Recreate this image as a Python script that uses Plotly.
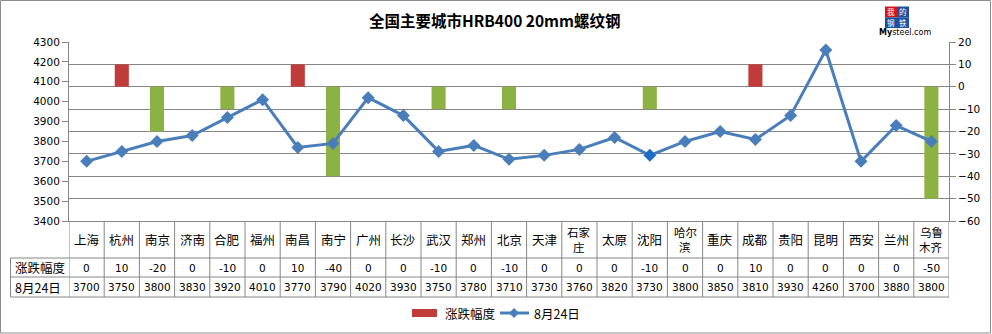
import plotly.graph_objects as go

# ---------------- data ----------------
cities = ["上海", "杭州", "南京", "济南", "合肥", "福州", "南昌", "南宁", "广州", "长沙",
          "武汉", "郑州", "北京", "天津", "石家庄", "太原", "沈阳", "哈尔滨", "重庆", "成都",
          "贵阳", "昆明", "西安", "兰州", "乌鲁木齐"]
change = [0, 10, -20, 0, -10, 0, 10, -40, 0, 0,
          -10, 0, -10, 0, 0, 0, -10, 0, 0, 10,
          0, 0, 0, 0, -50]
price = [3700, 3750, 3800, 3830, 3920, 4010, 3770, 3790, 4020, 3930,
         3750, 3780, 3710, 3730, 3760, 3820, 3730, 3800, 3850, 3810,
         3930, 4260, 3700, 3880, 3800]
change_name = "涨跌幅度"
price_name = "8月24日"
title = "全国主要城市HRB400 20mm螺纹钢"
left_ticks = [3400, 3500, 3600, 3700, 3800, 3900, 4000, 4100, 4200, 4300]
right_ticks = [-60, -50, -40, -30, -20, -10, 0, 10, 20]

# ---------------- layout helpers ----------------
W, H = 992, 334
L, R, T, B = 69, 43, 42, 113
PW, PH = W - L - R, H - T - B


def xp(px):
    return (px - L) / PW


def yp(py):
    return (H - B - py) / PH


CJK = "Noto Sans CJK SC"
NUM = "DejaVu Sans"
GRID = "#868686"
RED = "#c23b3b"
GREEN = "#8cb244"
BLUE = "#4a7ebb"

fig = go.Figure()

bar_colors = [RED if v >= 0 else GREEN for v in change]
fig.add_trace(go.Bar(
    x=cities, y=change, name=change_name, yaxis="y",
    width=0.4, marker=dict(color=bar_colors, line=dict(width=0)),
))

marker_colors = ["#1b6ec6" if c == "沈阳" else BLUE for c in cities]
fig.add_trace(go.Scatter(
    x=cities, y=price, name=price_name, yaxis="y2", mode="lines+markers",
    line=dict(color=BLUE, width=3),
    marker=dict(symbol="diamond", size=10, color=marker_colors),
))


def note(text, x, y, xref="paper", size=12.5, family=CJK, **kw):
    d = dict(text=text, x=x, y=y, xref=xref, yref="paper", showarrow=False,
             xanchor="center", yanchor="middle",
             font=dict(family=family, size=size, color=kw.pop("color", "#000")))
    d.update(kw)
    return d


ann = []
ann.append(note("<b>" + title + "</b>", xp(495), yp(20), size=15.5))
for c, v, p in zip(cities, change, price):
    if len(c) <= 2:
        ann.append(note(c, c, yp(239.5), xref="x"))
    else:
        ann.append(note(c[:2], c, yp(231.5), xref="x", size=11.5, borderpad=0))
        ann.append(note(c[2:], c, yp(247), xref="x", size=11.5, borderpad=0))
    ann.append(note(str(v), c, yp(267.5), xref="x", size=10.5, family=NUM))
    ann.append(note(str(p), c, yp(287), xref="x", size=10.5, family=NUM))
ann.append(note(change_name, xp(40), yp(267.5)))
ann.append(note(price_name, xp(13), yp(287), xanchor="left"))

shapes = []

# logo
logo = [("我", 885, 897, 6.5, 17.3, "#d7151a"), ("的", 897, 909, 6.5, 17.3, "#1d4f9e"),
        ("钢", 885, 897, 17.3, 28, "#1d4f9e"), ("铁", 897, 909, 17.3, 28, "#1d4f9e")]
for ch, x0, x1, y0, y1, bg in logo:
    shapes.append(dict(type="rect", xref="paper", yref="paper", x0=xp(x0), x1=xp(x1),
                       y0=yp(y0), y1=yp(y1), fillcolor=bg, line=dict(width=0)))
    ann.append(note(ch, xp((x0 + x1) / 2), yp((y0 + y1) / 2), size=7.5, color="#fff"))
ann.append(note("<b>My</b>steel.com", xp(905), yp(32.5), size=8, family="DejaVu Sans"))

# table grid
line_style = dict(color=GRID, width=1)
for i in range(len(cities) + 1):
    shapes.append(dict(type="line", xref="x", yref="paper", x0=i - 0.5, x1=i - 0.5,
                       y0=yp(221), y1=yp(297), line=line_style))
shapes.append(dict(type="line", xref="paper", yref="paper", x0=xp(10.5), x1=xp(10.5),
                   y0=yp(258), y1=yp(297), line=line_style))
for py in (258, 277, 297):
    shapes.append(dict(type="line", xref="paper", yref="paper", x0=xp(10.5), x1=1,
                       y0=yp(py), y1=yp(py), line=line_style))

# legend (drawn by hand to match the wide swatch)
LY = 313
shapes.append(dict(type="rect", xref="paper", yref="paper", x0=xp(412), x1=xp(437),
                   y0=yp(LY - 4), y1=yp(LY + 4), fillcolor=RED, line=dict(width=0)))
ann.append(note(change_name, xp(443), yp(LY), xanchor="left"))
shapes.append(dict(type="line", xref="paper", yref="paper", x0=xp(500), x1=xp(529),
                   y0=yp(LY), y1=yp(LY), line=dict(color=BLUE, width=3)))
dx, dy = 5, 5
shapes.append(dict(type="path", xref="paper", yref="paper", fillcolor=BLUE,
                   line=dict(width=0),
                   path=f"M {xp(514)},{yp(LY - dy)} L {xp(514 + dx)},{yp(LY)} "
                        f"L {xp(514)},{yp(LY + dy)} L {xp(514 - dx)},{yp(LY)} Z"))
ann.append(note(price_name, xp(532), yp(LY), xanchor="left"))

# outer border
shapes.append(dict(type="rect", xref="paper", yref="paper", x0=xp(0.5), x1=xp(990.5),
                   y0=yp(0.5), y1=yp(333), line=dict(color="#8c8c8c", width=1)))

fig.update_layout(
    width=W, height=H, margin=dict(l=L, r=R, t=T, b=B, autoexpand=False),
    paper_bgcolor="#fff", plot_bgcolor="#fff",
    showlegend=False,
    xaxis=dict(range=[-0.5, len(cities) - 0.5], showticklabels=False, showgrid=False,
               showline=True, linecolor=GRID, ticks="", zeroline=False, fixedrange=True),
    yaxis=dict(range=[-60, 20], tickvals=right_ticks, side="right", showgrid=True,
               gridcolor=GRID, gridwidth=1, zeroline=False, showline=True, linecolor=GRID,
               ticks="outside", ticklen=6, tickcolor=GRID,
               tickfont=dict(family=NUM, size=10.5, color="#000")),
    yaxis2=dict(range=[3400, 4300], tickvals=left_ticks, side="left", overlaying="y",
                showgrid=False, zeroline=False, showline=True, linecolor=GRID,
                ticks="outside", ticklen=6, tickcolor=GRID,
                tickfont=dict(family=NUM, size=10.5, color="#000")),
    annotations=ann, shapes=shapes,
)

fig.write_html("out.html")
